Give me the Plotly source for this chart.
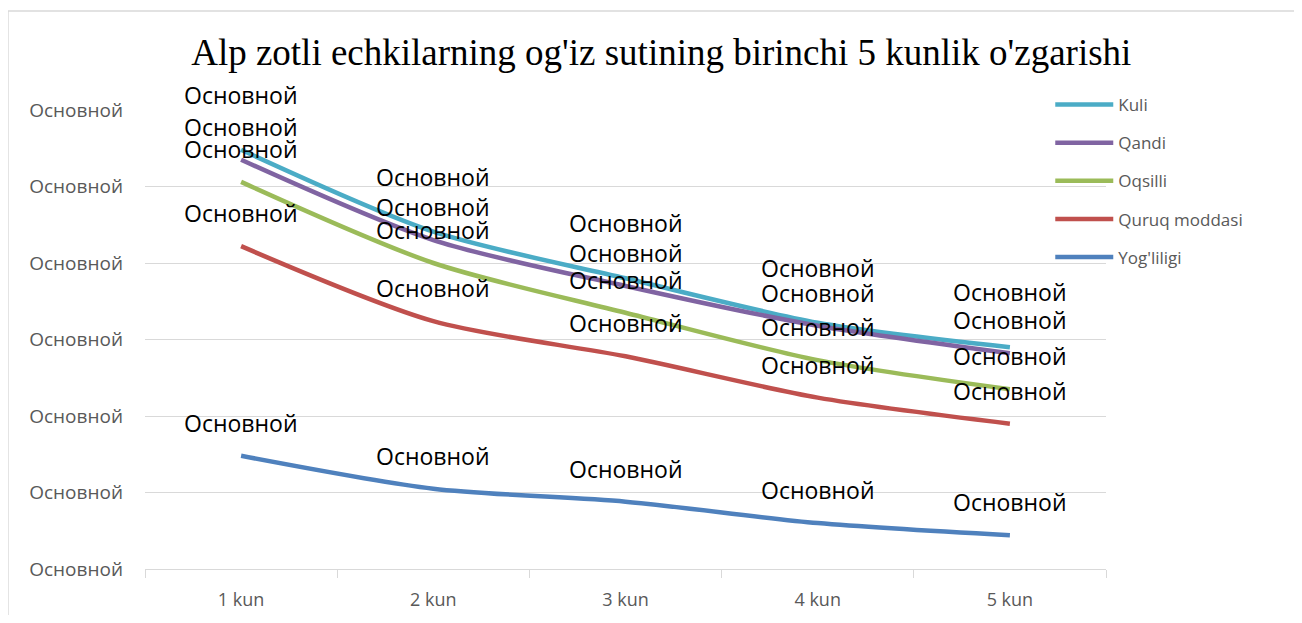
import plotly.graph_objects as go

DAYS = ["1 kun", "2 kun", "3 kun", "4 kun", "5 kun"]

KULI = [5.48, 4.41, 3.80, 3.22, 2.90]
QANDI = [5.35, 4.30, 3.70, 3.18, 2.82]
OQSILLI = [5.06, 4.00, 3.35, 2.73, 2.35]
QURUQ_MODDASI = [4.22, 3.24, 2.78, 2.24, 1.90]
YOGLILIGI = [1.48, 1.05, 0.88, 0.60, 0.44]

Y_TICKS = [0, 1, 2, 3, 4, 5, 6]
Y_TICK_TEXT = ["Основной"] * len(Y_TICKS)
LABEL_TEXT = "Основной"

SERIES = [
    ("Kuli", KULI, "#4BACC6", 55),
    ("Qandi", QANDI, "#8064A2", 33),
    ("Oqsilli", OQSILLI, "#9BBB59", 33),
    ("Quruq moddasi", QURUQ_MODDASI, "#C0504D", 33),
    ("Yog'liligi", YOGLILIGI, "#4F81BD", 33),
]

fig = go.Figure()
annotations = []
for i, (name, values, color, lift) in enumerate(SERIES):
    fig.add_trace(go.Scatter(
        x=DAYS, y=values,
        mode="lines",
        name=name,
        legendgroup=f"g{i}",
        line=dict(color=color, width=4.5, shape="spline", smoothing=0.8),
    ))
    for day, val in zip(DAYS, values):
        annotations.append(dict(
            x=day, y=val, xref="x", yref="y",
            text=LABEL_TEXT, showarrow=False,
            yshift=lift, yanchor="middle",
            font=dict(family="Open Sans", size=23, color="#000000"),
        ))

# page body adds 8px, so the figure is sized to fit inside the window
fig.update_layout(
    width=1286,
    height=607,
    margin=dict(l=137, r=188, t=102, b=46),
    paper_bgcolor="#FFFFFF",
    plot_bgcolor="#FFFFFF",
    font=dict(family="Open Sans", color="#595959", size=17),
    title=dict(
        text="Alp zotli echkilarning og'iz sutining birinchi 5 kunlik o'zgarishi",
        font=dict(family="Liberation Serif", size=37, color="#000000"),
        x=0.508, xanchor="center", y=0.9275, yanchor="middle",
    ),
    legend=dict(
        x=0.942, xanchor="left", y=1.05, yanchor="top",
        font=dict(size=17, color="#595959"),
        tracegroupgap=13,
        itemwidth=58,
        bgcolor="rgba(0,0,0,0)",
    ),
    annotations=annotations,
    shapes=[dict(
        type="rect", xref="paper", yref="paper",
        x0=-0.1426, x1=1.6, y0=-0.6, y1=1.2157,
        line=dict(color="#D9D9D9", width=1.5), fillcolor="rgba(0,0,0,0)",
        layer="below",
    )],
)
fig.update_xaxes(
    range=[-0.5, 4.5], automargin=False,
    showgrid=False, showline=True, linecolor="#D9D9D9", linewidth=1,
    ticks="outside", tickson="boundaries", ticklen=8, tickcolor="#D9D9D9",
    ticklabelstandoff=14,
    tickfont=dict(size=18, color="#595959"), zeroline=False,
)
fig.update_yaxes(
    range=[0, 6], tickvals=Y_TICKS, ticktext=Y_TICK_TEXT, automargin=False,
    showgrid=True, gridcolor="#D9D9D9", gridwidth=1, zeroline=False,
    showline=False, ticks="", ticklabelstandoff=21,
    tickfont=dict(size=19, color="#595959"),
)

fig.write_html("out.html")
